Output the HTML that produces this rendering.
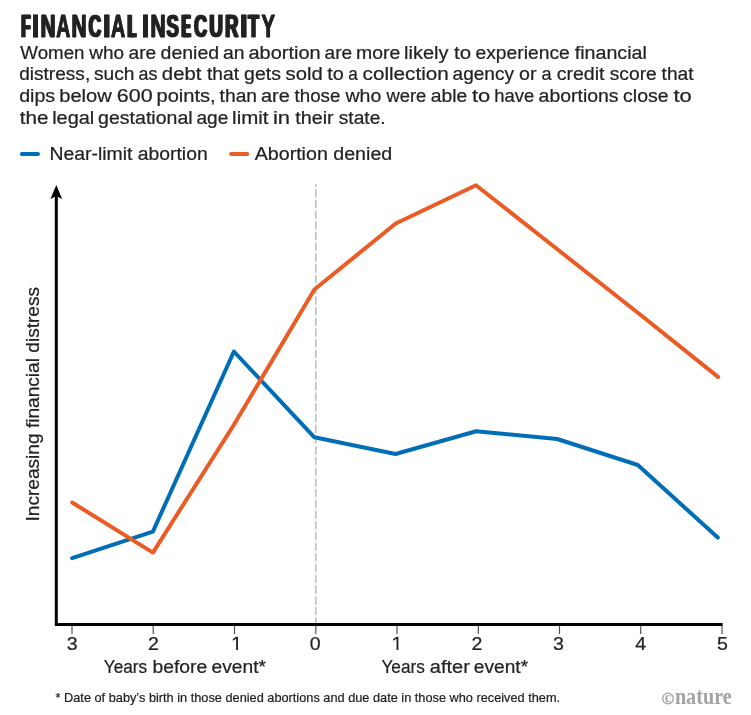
<!DOCTYPE html>
<html>
<head>
<meta charset="utf-8">
<title>Financial insecurity</title>
<style>
  html, body { margin: 0; padding: 0; background: #ffffff; }
  body { width: 751px; height: 715px; overflow: hidden; }
  svg { display: block; will-change: transform; }
  text { font-family: "Liberation Sans", sans-serif; fill: #222222; }
  .title text { font-weight: bold; font-size: 31.0px; fill: #222222; stroke: #222222; stroke-width: 0.4px; stroke-linejoin: miter; }
  .body { font-size: 18px; stroke: #222222; stroke-width: 0.22px; }
  .foot { font-size: 12.6px; fill: #1c1c1c; stroke: #1c1c1c; stroke-width: 0.2px; }
  .nat { font-family: "Liberation Serif", serif; font-weight: bold; fill: #a3a3a3; }
</style>
</head>
<body>
<svg width="751" height="715" viewBox="0 0 751 715">
  <rect x="0" y="0" width="751" height="715" fill="#ffffff"/>

  <!-- Title -->
  <g class="title">
    <text x="20.28" y="36.5" textLength="9.03" lengthAdjust="spacingAndGlyphs">F</text>
    <text x="21.44" y="36.5" textLength="9.03" lengthAdjust="spacingAndGlyphs">F</text>
    <text x="22.60" y="36.5" textLength="9.03" lengthAdjust="spacingAndGlyphs">F</text>
    <text x="31.28" y="36.5" textLength="8.61" lengthAdjust="spacingAndGlyphs">I</text>
    <text x="31.28" y="36.5" textLength="8.61" lengthAdjust="spacingAndGlyphs">I</text>
    <text x="31.28" y="36.5" textLength="8.61" lengthAdjust="spacingAndGlyphs">I</text>
    <text x="39.94" y="36.5" textLength="14.97" lengthAdjust="spacingAndGlyphs">N</text>
    <text x="40.55" y="36.5" textLength="14.97" lengthAdjust="spacingAndGlyphs">N</text>
    <text x="41.16" y="36.5" textLength="14.97" lengthAdjust="spacingAndGlyphs">N</text>
    <text x="55.99" y="36.5" textLength="13.97" lengthAdjust="spacingAndGlyphs">A</text>
    <text x="56.20" y="36.5" textLength="13.97" lengthAdjust="spacingAndGlyphs">A</text>
    <text x="56.40" y="36.5" textLength="13.97" lengthAdjust="spacingAndGlyphs">A</text>
    <text x="70.91" y="36.5" textLength="15.08" lengthAdjust="spacingAndGlyphs">N</text>
    <text x="71.51" y="36.5" textLength="15.08" lengthAdjust="spacingAndGlyphs">N</text>
    <text x="72.10" y="36.5" textLength="15.08" lengthAdjust="spacingAndGlyphs">N</text>
    <text x="87.71" y="36.5" textLength="12.51" lengthAdjust="spacingAndGlyphs">C</text>
    <text x="88.64" y="36.5" textLength="12.51" lengthAdjust="spacingAndGlyphs">C</text>
    <text x="89.56" y="36.5" textLength="12.51" lengthAdjust="spacingAndGlyphs">C</text>
    <text x="102.38" y="36.5" textLength="8.61" lengthAdjust="spacingAndGlyphs">I</text>
    <text x="102.38" y="36.5" textLength="8.61" lengthAdjust="spacingAndGlyphs">I</text>
    <text x="102.38" y="36.5" textLength="8.61" lengthAdjust="spacingAndGlyphs">I</text>
    <text x="110.78" y="36.5" textLength="14.16" lengthAdjust="spacingAndGlyphs">A</text>
    <text x="110.97" y="36.5" textLength="14.16" lengthAdjust="spacingAndGlyphs">A</text>
    <text x="111.16" y="36.5" textLength="14.16" lengthAdjust="spacingAndGlyphs">A</text>
    <text x="126.57" y="36.5" textLength="8.03" lengthAdjust="spacingAndGlyphs">L</text>
    <text x="127.85" y="36.5" textLength="8.03" lengthAdjust="spacingAndGlyphs">L</text>
    <text x="129.13" y="36.5" textLength="8.03" lengthAdjust="spacingAndGlyphs">L</text>
    <text x="141.19" y="36.5" textLength="8.61" lengthAdjust="spacingAndGlyphs">I</text>
    <text x="141.21" y="36.5" textLength="8.61" lengthAdjust="spacingAndGlyphs">I</text>
    <text x="141.24" y="36.5" textLength="8.61" lengthAdjust="spacingAndGlyphs">I</text>
    <text x="149.90" y="36.5" textLength="15.13" lengthAdjust="spacingAndGlyphs">N</text>
    <text x="150.49" y="36.5" textLength="15.13" lengthAdjust="spacingAndGlyphs">N</text>
    <text x="151.08" y="36.5" textLength="15.13" lengthAdjust="spacingAndGlyphs">N</text>
    <text x="165.80" y="36.5" textLength="12.38" lengthAdjust="spacingAndGlyphs">S</text>
    <text x="166.56" y="36.5" textLength="12.38" lengthAdjust="spacingAndGlyphs">S</text>
    <text x="167.32" y="36.5" textLength="12.38" lengthAdjust="spacingAndGlyphs">S</text>
    <text x="180.61" y="36.5" textLength="8.53" lengthAdjust="spacingAndGlyphs">E</text>
    <text x="181.92" y="36.5" textLength="8.53" lengthAdjust="spacingAndGlyphs">E</text>
    <text x="183.22" y="36.5" textLength="8.53" lengthAdjust="spacingAndGlyphs">E</text>
    <text x="193.27" y="36.5" textLength="12.86" lengthAdjust="spacingAndGlyphs">C</text>
    <text x="194.16" y="36.5" textLength="12.86" lengthAdjust="spacingAndGlyphs">C</text>
    <text x="195.05" y="36.5" textLength="12.86" lengthAdjust="spacingAndGlyphs">C</text>
    <text x="208.41" y="36.5" textLength="13.54" lengthAdjust="spacingAndGlyphs">U</text>
    <text x="209.29" y="36.5" textLength="13.54" lengthAdjust="spacingAndGlyphs">U</text>
    <text x="210.16" y="36.5" textLength="13.54" lengthAdjust="spacingAndGlyphs">U</text>
    <text x="224.28" y="36.5" textLength="13.17" lengthAdjust="spacingAndGlyphs">R</text>
    <text x="225.19" y="36.5" textLength="13.17" lengthAdjust="spacingAndGlyphs">R</text>
    <text x="226.10" y="36.5" textLength="13.17" lengthAdjust="spacingAndGlyphs">R</text>
    <text x="239.42" y="36.5" textLength="8.61" lengthAdjust="spacingAndGlyphs">I</text>
    <text x="239.42" y="36.5" textLength="8.61" lengthAdjust="spacingAndGlyphs">I</text>
    <text x="239.42" y="36.5" textLength="8.61" lengthAdjust="spacingAndGlyphs">I</text>
    <text x="247.26" y="36.5" textLength="10.55" lengthAdjust="spacingAndGlyphs">T</text>
    <text x="248.24" y="36.5" textLength="10.55" lengthAdjust="spacingAndGlyphs">T</text>
    <text x="249.22" y="36.5" textLength="10.55" lengthAdjust="spacingAndGlyphs">T</text>
    <text x="261.28" y="36.5" textLength="13.46" lengthAdjust="spacingAndGlyphs">Y</text>
    <text x="261.57" y="36.5" textLength="13.46" lengthAdjust="spacingAndGlyphs">Y</text>
    <text x="261.87" y="36.5" textLength="13.46" lengthAdjust="spacingAndGlyphs">Y</text>
  </g>

  <!-- Standfirst -->
  <text class="body" x="20.32" y="58.7" textLength="64.19" lengthAdjust="spacingAndGlyphs">Women</text>
  <text class="body" x="89.33" y="58.7" textLength="34.87" lengthAdjust="spacingAndGlyphs">who</text>
  <text class="body" x="128.59" y="58.7" textLength="27.66" lengthAdjust="spacingAndGlyphs">are</text>
  <text class="body" x="160.58" y="58.7" textLength="58.58" lengthAdjust="spacingAndGlyphs">denied</text>
  <text class="body" x="223.08" y="58.7" textLength="21.47" lengthAdjust="spacingAndGlyphs">an</text>
  <text class="body" x="248.45" y="58.7" textLength="72.20" lengthAdjust="spacingAndGlyphs">abortion</text>
  <text class="body" x="324.54" y="58.7" textLength="27.61" lengthAdjust="spacingAndGlyphs">are</text>
  <text class="body" x="356.01" y="58.7" textLength="44.25" lengthAdjust="spacingAndGlyphs">more</text>
  <text class="body" x="404.05" y="58.7" textLength="44.38" lengthAdjust="spacingAndGlyphs">likely</text>
  <text class="body" x="454.09" y="58.7" textLength="17.07" lengthAdjust="spacingAndGlyphs">to</text>
  <text class="body" x="475.48" y="58.7" textLength="94.38" lengthAdjust="spacingAndGlyphs">experience</text>
  <text class="body" x="574.72" y="58.7" textLength="72.09" lengthAdjust="spacingAndGlyphs">financial</text>
  <text class="body" x="19.20" y="80.3" textLength="71.01" lengthAdjust="spacingAndGlyphs">distress,</text>
  <text class="body" x="93.97" y="80.3" textLength="40.48" lengthAdjust="spacingAndGlyphs">such</text>
  <text class="body" x="138.44" y="80.3" textLength="18.91" lengthAdjust="spacingAndGlyphs">as</text>
  <text class="body" x="161.85" y="80.3" textLength="39.60" lengthAdjust="spacingAndGlyphs">debt</text>
  <text class="body" x="207.01" y="80.3" textLength="32.03" lengthAdjust="spacingAndGlyphs">that</text>
  <text class="body" x="244.08" y="80.3" textLength="36.82" lengthAdjust="spacingAndGlyphs">gets</text>
  <text class="body" x="285.64" y="80.3" textLength="37.17" lengthAdjust="spacingAndGlyphs">sold</text>
  <text class="body" x="327.20" y="80.3" textLength="16.53" lengthAdjust="spacingAndGlyphs">to</text>
  <text class="body" x="348.17" y="80.3" textLength="9.51" lengthAdjust="spacingAndGlyphs">a</text>
  <text class="body" x="362.62" y="80.3" textLength="86.12" lengthAdjust="spacingAndGlyphs">collection</text>
  <text class="body" x="452.59" y="80.3" textLength="61.35" lengthAdjust="spacingAndGlyphs">agency</text>
  <text class="body" x="519.08" y="80.3" textLength="17.45" lengthAdjust="spacingAndGlyphs">or</text>
  <text class="body" x="541.43" y="80.3" textLength="10.07" lengthAdjust="spacingAndGlyphs">a</text>
  <text class="body" x="556.67" y="80.3" textLength="47.77" lengthAdjust="spacingAndGlyphs">credit</text>
  <text class="body" x="609.77" y="80.3" textLength="46.99" lengthAdjust="spacingAndGlyphs">score</text>
  <text class="body" x="661.61" y="80.3" textLength="31.93" lengthAdjust="spacingAndGlyphs">that</text>
  <text class="body" x="19.18" y="101.9" textLength="36.03" lengthAdjust="spacingAndGlyphs">dips</text>
  <text class="body" x="59.20" y="101.9" textLength="52.65" lengthAdjust="spacingAndGlyphs">below</text>
  <text class="body" x="116.81" y="101.9" textLength="35.83" lengthAdjust="spacingAndGlyphs">600</text>
  <text class="body" x="156.50" y="101.9" textLength="59.20" lengthAdjust="spacingAndGlyphs">points,</text>
  <text class="body" x="219.61" y="101.9" textLength="37.44" lengthAdjust="spacingAndGlyphs">than</text>
  <text class="body" x="260.96" y="101.9" textLength="28.73" lengthAdjust="spacingAndGlyphs">are</text>
  <text class="body" x="294.52" y="101.9" textLength="45.82" lengthAdjust="spacingAndGlyphs">those</text>
  <text class="body" x="345.53" y="101.9" textLength="35.79" lengthAdjust="spacingAndGlyphs">who</text>
  <text class="body" x="386.53" y="101.9" textLength="39.79" lengthAdjust="spacingAndGlyphs">were</text>
  <text class="body" x="430.68" y="101.9" textLength="36.48" lengthAdjust="spacingAndGlyphs">able</text>
  <text class="body" x="471.97" y="101.9" textLength="18.31" lengthAdjust="spacingAndGlyphs">to</text>
  <text class="body" x="494.22" y="101.9" textLength="40.00" lengthAdjust="spacingAndGlyphs">have</text>
  <text class="body" x="538.57" y="101.9" textLength="80.03" lengthAdjust="spacingAndGlyphs">abortions</text>
  <text class="body" x="623.07" y="101.9" textLength="45.60" lengthAdjust="spacingAndGlyphs">close</text>
  <text class="body" x="673.47" y="101.9" textLength="18.25" lengthAdjust="spacingAndGlyphs">to</text>
  <text class="body" x="19.69" y="123.5" textLength="28.73" lengthAdjust="spacingAndGlyphs">the</text>
  <text class="body" x="52.16" y="123.5" textLength="42.07" lengthAdjust="spacingAndGlyphs">legal</text>
  <text class="body" x="98.08" y="123.5" textLength="94.53" lengthAdjust="spacingAndGlyphs">gestational</text>
  <text class="body" x="196.49" y="123.5" textLength="31.86" lengthAdjust="spacingAndGlyphs">age</text>
  <text class="body" x="232.12" y="123.5" textLength="36.43" lengthAdjust="spacingAndGlyphs">limit</text>
  <text class="body" x="272.93" y="123.5" textLength="17.09" lengthAdjust="spacingAndGlyphs">in</text>
  <text class="body" x="295.30" y="123.5" textLength="38.33" lengthAdjust="spacingAndGlyphs">their</text>
  <text class="body" x="338.77" y="123.5" textLength="46.88" lengthAdjust="spacingAndGlyphs">state.</text>

  <!-- Legend -->
  <line x1="21.96" y1="154" x2="37.87" y2="154" stroke="#006db7" stroke-width="4.2" stroke-linecap="round"/>
  <text id="g1" class="body" x="49.50" y="159.8" textLength="158.20" lengthAdjust="spacingAndGlyphs">Near-limit abortion</text>
  <line x1="231.2" y1="154" x2="247.2" y2="154" stroke="#eb5c24" stroke-width="4.2" stroke-linecap="round"/>
  <text id="g2" class="body" x="254.71" y="159.8" textLength="137.53" lengthAdjust="spacingAndGlyphs">Abortion denied</text>

  <!-- Event line -->
  <line x1="315.8" y1="184.2" x2="315.8" y2="623" stroke="#b5bec9" stroke-width="1.5" stroke-dasharray="8.2 2.51" stroke-dashoffset="5.7"/>

  <!-- Ticks -->
  <g stroke="#4d4d4d" stroke-width="1.15">
    <line x1="72.0" y1="625" x2="72.0" y2="634"/>
    <line x1="153.2" y1="625" x2="153.2" y2="634"/>
    <line x1="234.5" y1="625" x2="234.5" y2="634"/>
    <line x1="315.8" y1="625" x2="315.8" y2="634"/>
    <line x1="397.0" y1="625" x2="397.0" y2="634"/>
    <line x1="478.3" y1="625" x2="478.3" y2="634"/>
    <line x1="559.5" y1="625" x2="559.5" y2="634"/>
    <line x1="640.7" y1="625" x2="640.7" y2="634"/>
    <line x1="722.0" y1="625" x2="722.0" y2="634"/>
  </g>

  <!-- Data lines -->
  <polyline fill="none" stroke="#006db7" stroke-width="4" stroke-linecap="round" stroke-linejoin="round"
    points="72.2,558.2 152.9,531.6 233.9,351.5 314.4,437.3 395.5,454.0 476.2,431.3 557.2,439.0 637.8,465.0 717.8,537.6"/>
  <polyline fill="none" stroke="#eb5c24" stroke-width="4" stroke-linecap="round" stroke-linejoin="round"
    points="72.2,502.5 152.9,552.6 233.9,424.8 314.4,289.5 395.7,223.5 476.0,185.2 557.0,249.0 637.5,312.5 718.0,376.9"/>

  <!-- Axes -->
  <path d="M56.3,194 L56.3,624.45 L722.6,624.45" fill="none" stroke="#000000" stroke-width="3" stroke-linejoin="miter"/>
  <path d="M56.3,185 L62.2,198.9 L56.3,196 L50.4,198.9 Z" fill="#000000"/>

  <!-- Tick labels -->
  <g class="body" text-anchor="middle">
    <text x="72.1" y="649.6" textLength="10.9" lengthAdjust="spacingAndGlyphs">3</text>
    <text x="153.5" y="649.6" textLength="10.9" lengthAdjust="spacingAndGlyphs">2</text>
    <text x="315.1" y="649.6" textLength="10.9" lengthAdjust="spacingAndGlyphs">0</text>
    <text x="476.95" y="649.6" textLength="10.9" lengthAdjust="spacingAndGlyphs">2</text>
    <text x="558.5" y="649.6" textLength="10.9" lengthAdjust="spacingAndGlyphs">3</text>
    <text x="640.6" y="649.6" textLength="10.9" lengthAdjust="spacingAndGlyphs">4</text>
    <text x="722.4" y="649.6" textLength="10.9" lengthAdjust="spacingAndGlyphs">5</text>
  </g>
  <g fill="#222222">
    <path transform="translate(238.0,649.9)" d="M0,0 L0,-13.1 L-1.6,-13.1 L-5.25,-10.9 L-5.1,-9.2 L-1.85,-11.2 L-1.85,0 Z"/>
    <path transform="translate(398.4,649.9)" d="M0,0 L0,-13.1 L-1.6,-13.1 L-5.25,-10.9 L-5.1,-9.2 L-1.85,-11.2 L-1.85,0 Z"/>
  </g>

  <!-- Axis titles -->
  <text class="body" x="103.74" y="672.6" textLength="43.36" lengthAdjust="spacingAndGlyphs">Years</text>
  <text class="body" x="152.45" y="672.6" textLength="54.91" lengthAdjust="spacingAndGlyphs">before</text>
  <text class="body" x="211.58" y="672.6" textLength="54.42" lengthAdjust="spacingAndGlyphs">event*</text>
  <text class="body" x="381.43" y="672.6" textLength="43.47" lengthAdjust="spacingAndGlyphs">Years</text>
  <text class="body" x="429.85" y="672.6" textLength="40.08" lengthAdjust="spacingAndGlyphs">after</text>
  <text class="body" x="473.79" y="672.6" textLength="54.31" lengthAdjust="spacingAndGlyphs">event*</text>
  <text class="body" style="font-size:18.4px" transform="translate(39.2,521.55) rotate(-90)" x="0" y="0" textLength="234.65" lengthAdjust="spacingAndGlyphs">Increasing financial distress</text>

  <!-- Footnote -->
  <text id="ft" class="foot" x="55.54" y="702" textLength="504.60" lengthAdjust="spacingAndGlyphs">* Date of baby’s birth in those denied abortions and due date in those who received them.</text>

  <!-- Credit -->
  <circle cx="668" cy="698.45" r="5.35" fill="none" stroke="#a3a3a3" stroke-width="1.3"/>
  <text class="nat" x="664.8" y="701.9" font-size="14.2" textLength="6.3" lengthAdjust="spacingAndGlyphs">c</text>
  <text class="nat" x="674.9" y="704.0" font-size="23.4" textLength="56.8" lengthAdjust="spacingAndGlyphs">nature</text>
</svg>
</body>
</html>
